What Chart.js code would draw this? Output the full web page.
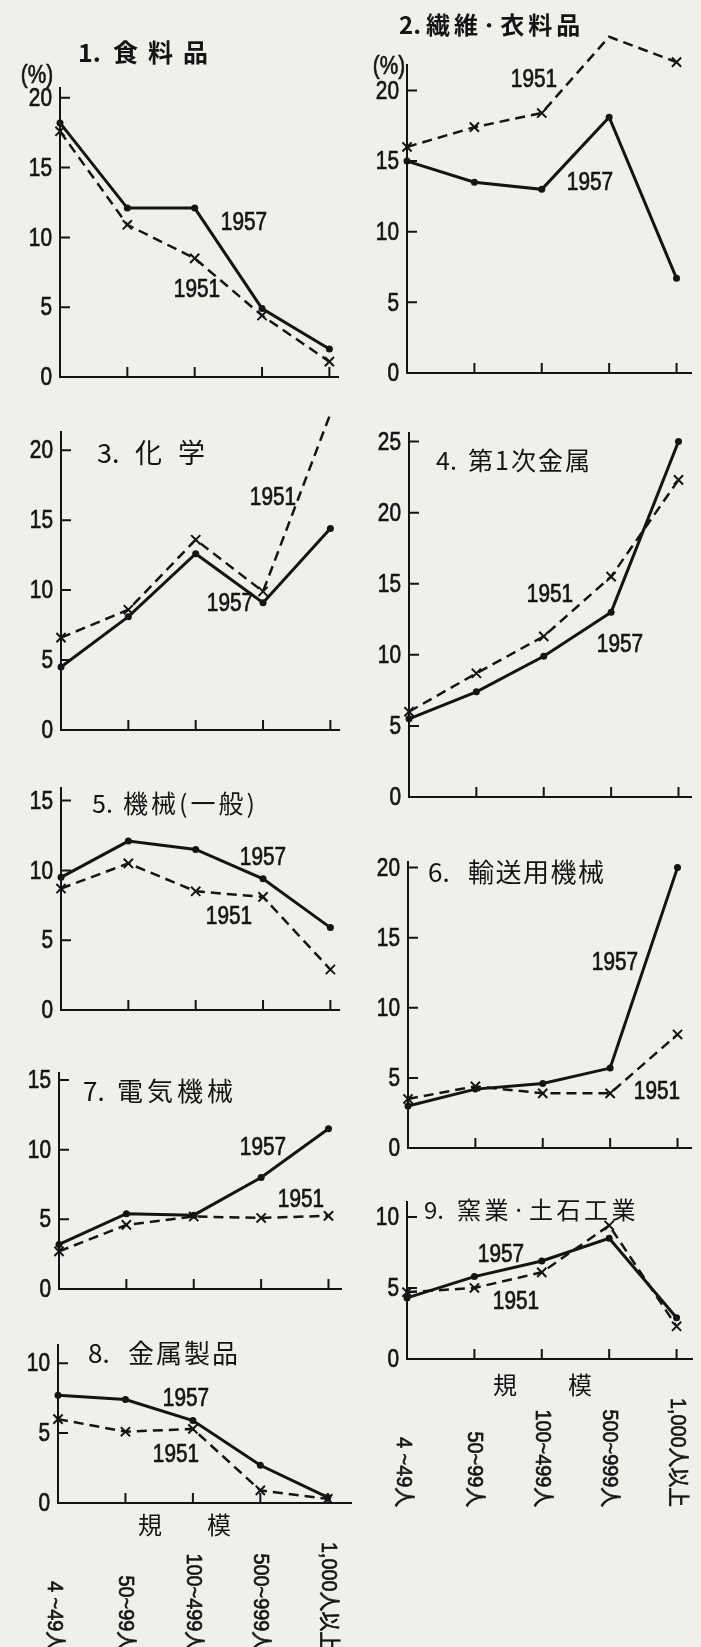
<!DOCTYPE html>
<html>
<head>
<meta charset="utf-8">
<script src="https://cdn.jsdelivr.net/npm/chart.js@4.4.1/dist/chart.umd.min.js"></script>
<style>
  html, body { margin: 0; padding: 0; }
  body { width: 701px; height: 1647px; background: #efefeb; position: relative; overflow: hidden; }
  canvas { position: absolute; }
</style>
</head>
<body>
<script>
// size classes (x axis) and the two survey years
const categories = ['4 ~49人', '50~99人', '100~499人', '500~999人', '1,000人以上'];
const years = ['1957', '1951'];

// share (%) by size class
const food1957 = [18.2, 12.1, 12.1, 4.9, 2.0];
const food1951 = [17.6, 10.9, 8.5, 4.4, 1.1];
const textile1957 = [15.0, 13.5, 13.0, 18.1, 6.7];
const textile1951 = [16.0, 17.4, 18.4, 23.8, 22.0];
const chem1957 = [4.5, 8.1, 12.6, 9.1, 14.4];
const chem1951 = [6.6, 8.6, 13.6, 9.9, 22.6];
const primMetal1957 = [5.5, 7.4, 9.9, 13.0, 25.0];
const primMetal1951 = [6.0, 8.7, 11.3, 15.5, 22.3];
const machine1957 = [9.5, 12.1, 11.5, 9.4, 5.9];
const machine1951 = [8.7, 10.5, 8.5, 8.1, 2.9];
const transport1957 = [3.0, 4.2, 4.6, 5.7, 20.0];
const transport1951 = [3.5, 4.4, 3.9, 3.9, 8.1];
const electric1957 = [3.2, 5.4, 5.3, 8.0, 11.5];
const electric1951 = [2.7, 4.6, 5.2, 5.1, 5.25];
const metalProd1957 = [7.7, 7.4, 5.9, 2.7, 0.4];
const metalProd1951 = [6.0, 5.1, 5.3, 0.9, 0.3];
const ceramic1957 = [4.3, 5.8, 6.9, 8.5, 2.9];
const ceramic1951 = [4.7, 5.0, 6.1, 9.4, 2.3];

const INK = '#141414';
const NUM_FAMILY = "'Liberation Sans', Arial, 'Noto Sans CJK JP', sans-serif";
const JP_FONT = "'Noto Sans CJK JP', sans-serif";
const CAT_STEP = 69.4;   // px between size classes
const L = 56, T = 62;    // room left of / above the plot area

// layout of each plate (page px); ax = y axis, zero = x axis, top = end of y axis
const panels = [
  { s57: food1957, s51: food1951, ax: 60, zero: 377, top: 88, right: 347, yMax: 20.7,
    title: { num: '1.', name: '食料品', nx: 18, mx: 53, dy: -325, size: 25, sp: 10, bold: true },
    notes: [['(%)', -23, -301], ['1957', 184, -154], ['1951', 137, -87]] },
  { s57: textile1957, s51: textile1951, ax: 407, zero: 373, top: 65, right: 700, yMax: 21.8,
    title: { num: '2.', name: '繊維·衣料品', nx: -8, mx: 19, dy: -348, size: 24, sp: 4, bold: true },
    notes: [['(%)', -18, -306], ['1951', 127, -293], ['1957', 183, -190]] },
  { s57: chem1957, s51: chem1951, ax: 61, zero: 730, top: 432, right: 348, yMax: 21.3,
    title: { num: '3.', name: '化学', nx: 36, mx: 74, dy: -277, size: 27, sp: 16 },
    notes: [['1951', 212, -232], ['1957', 169, -126]] },
  { s57: primMetal1957, s51: primMetal1951, ax: 409, zero: 797, top: 433, right: 700, yMax: 25.6,
    title: { num: '4.', name: '第1次金属', nx: 27, mx: 59, dy: -337, size: 25, sp: 2 },
    notes: [['1951', 141, -202], ['1957', 211, -152]] },
  { s57: machine1957, s51: machine1951, ax: 61, zero: 1010, top: 788, right: 348, yMax: 15.9,
    title: { num: '5.', name: '機械(一般)', nx: 31, mx: 62, dy: -207, size: 25, sp: 3 },
    notes: [['1957', 202, -152], ['1951', 168, -93]] },
  { s57: transport1957, s51: transport1951, ax: 408, zero: 1148, top: 862, right: 700, yMax: 20.4,
    title: { num: '6.', name: '輸送用機械', nx: 20, mx: 60, dy: -276, size: 26, sp: 1.5 },
    notes: [['1957', 207, -185], ['1951', 249, -56]] },
  { s57: electric1957, s51: electric1951, ax: 59, zero: 1289, top: 1073, right: 350, yMax: 15.5,
    title: { num: '7.', name: '電気機械', nx: 24, mx: 58, dy: -198, size: 26, sp: 4 },
    notes: [['1957', 204, -141], ['1951', 242, -89]] },
  { s57: metalProd1957, s51: metalProd1951, ax: 58, zero: 1503, top: 1345, right: 360, yMax: 11.3,
    title: { num: '8.', name: '金属製品', nx: 30, mx: 70, dy: -150, size: 26, sp: 2 },
    notes: [['1957', 128, -104], ['1951', 118, -48]],
    axisTitle: { dx: [92, 161], dy: 22 } },
  { s57: ceramic1957, s51: ceramic1951, ax: 407, zero: 1359, top: 1202, right: 701, yMax: 11.05,
    title: { num: '9.', name: '窯業·土石工業', nx: 17, mx: 50, dy: -149, size: 24, sp: 3.5 },
    notes: [['1957', 94, -104], ['1951', 109, -57]],
    axisTitle: { dx: [98, 173], dy: 26 } }
];

// the printed digits are a narrow, heavy face: squeeze a normal one and thicken it a little
function narrowText(ctx, text, x, y, align, size, sx, angle) {
  ctx.save();
  ctx.translate(x, y);
  if (angle) ctx.rotate(angle);
  ctx.scale(sx, 1);
  ctx.font = `${size}px ${NUM_FAMILY}`;
  ctx.textAlign = align;
  ctx.textBaseline = 'middle';
  ctx.lineWidth = 0.7;
  ctx.strokeStyle = INK;
  ctx.fillText(text, 0, 0);
  ctx.strokeText(text, 0, 0);
  ctx.restore();
}

function makeDecor(p) {
  return {
    id: 'decor',
    afterDraw(chart) {
      const ctx = chart.ctx;
      const xs = chart.scales.x, ys = chart.scales.y;
      const ox = xs.getPixelForValue(0), oy = ys.getPixelForValue(0);
      ctx.save();
      ctx.strokeStyle = INK;
      ctx.fillStyle = INK;
      ctx.lineWidth = 2;
      ctx.beginPath();
      // inner tick marks
      ys.ticks.forEach(t => {
        if (t.value > 0) {
          const y = ys.getPixelForValue(t.value);
          ctx.moveTo(ox, y); ctx.lineTo(ox + 10, y);
        }
      });
      for (let i = 1; i < categories.length; i++) {
        const x = xs.getPixelForValue(i);
        ctx.moveTo(x, oy); ctx.lineTo(x, oy - 10);
      }
      ctx.stroke();

      // y tick labels from the scale's own ticks
      ys.ticks.forEach(t => {
        narrowText(ctx, t.label, ox - 8, ys.getPixelForValue(t.value) + 1, 'right', 26, 0.8);
      });

      ctx.textBaseline = 'middle';
      ctx.textAlign = 'left';
      const t = p.title;
      ctx.font = `${t.bold ? 'bold ' : ''}${t.size}px ${JP_FONT}`;
      ctx.fillText(t.num, ox + t.nx, oy + t.dy);
      ctx.letterSpacing = t.sp + 'px';
      ctx.fillText(t.name, ox + t.mx, oy + t.dy);
      ctx.letterSpacing = '0px';

      p.notes.forEach(n => narrowText(ctx, n[0], ox + n[1], oy + n[2], 'center', 26, 0.8));

      if (p.axisTitle) {
        ctx.font = `24px ${JP_FONT}`;
        ctx.textAlign = 'center';
        ctx.fillText('規', ox + p.axisTitle.dx[0], oy + p.axisTitle.dy);
        ctx.fillText('模', ox + p.axisTitle.dx[1], oy + p.axisTitle.dy);
        categories.forEach((c, i) => {
          narrowText(ctx, c, xs.getPixelForValue(i) + (i === 0 ? -4 : 0), oy + 148,
            'right', 22, 0.9, Math.PI / 2);
        });
      }
      ctx.restore();
    }
  };
}

panels.forEach(p => {
  const B = p.axisTitle ? 160 : 34;
  const canvas = document.createElement('canvas');
  const w = p.right - p.ax + L;
  const h = p.zero - p.top + T + B;
  canvas.width = w; canvas.height = h;
  canvas.style.width = w + 'px'; canvas.style.height = h + 'px';
  canvas.style.left = (p.ax - L) + 'px';
  canvas.style.top = (p.top - T) + 'px';
  document.body.appendChild(canvas);

  const toPts = vals => vals.map((v, i) => ({ x: i, y: v }));

  new Chart(canvas.getContext('2d'), {
    type: 'line',
    data: {
      datasets: [
        {
          label: years[0], data: toPts(p.s57),
          borderColor: INK, backgroundColor: INK, borderWidth: 3,
          pointStyle: 'circle', pointRadius: 3.5, pointBackgroundColor: INK, pointBorderWidth: 0,
          tension: 0, clip: false
        },
        {
          label: years[1], data: toPts(p.s51),
          borderColor: INK, backgroundColor: INK, borderWidth: 2.5, borderDash: [10, 6],
          pointStyle: 'crossRot', pointRadius: 6.5, pointBorderWidth: 2, pointBorderColor: INK,
          tension: 0, clip: false
        }
      ]
    },
    options: {
      responsive: false,
      animation: false,
      devicePixelRatio: 1,
      layout: { padding: { left: 0, right: 0, top: T, bottom: B } },
      plugins: { legend: { display: false }, tooltip: { enabled: false } },
      scales: {
        x: {
          type: 'linear', min: 0, max: (p.right - p.ax) / CAT_STEP,
          grid: { display: false },
          ticks: { display: false },
          border: { display: true, color: INK, width: 2 },
          afterFit: s => { s.height = 0; }
        },
        y: {
          min: 0, max: p.yMax,
          grid: { display: false },
          border: { display: true, color: INK, width: 2 },
          ticks: { display: false, stepSize: 5, includeBounds: false },
          afterFit: s => { s.width = L; }
        }
      }
    },
    plugins: [makeDecor(p)]
  });
});
</script>
</body>
</html>
